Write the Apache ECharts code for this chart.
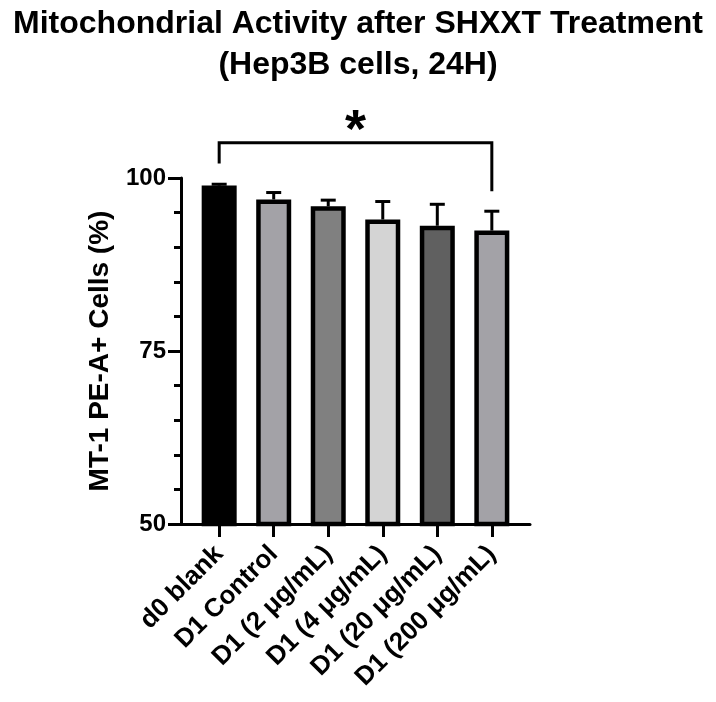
<!DOCTYPE html>
<html>
<head>
<meta charset="utf-8">
<script src="https://cdn.jsdelivr.net/npm/echarts@6/dist/echarts.min.js"></script>
<style>
  html, body { margin: 0; padding: 0; background: #fff; }
  #chart { width: 716px; height: 702px; }
</style>
</head>
<body>
<div id="chart"></div>
<script>
// data
const categories = ['d0 blank', 'D1 Control', 'D1 (2 μg/mL)', 'D1 (4 μg/mL)', 'D1 (20 μg/mL)', 'D1 (200 μg/mL)'];
const means = [98.9, 96.9, 95.9, 94.0, 93.1, 92.4];
const errors = [0.2, 1.0, 0.9, 2.6, 3.1, 2.8];
const barColors = ['#000000', '#a3a2a7', '#808080', '#d4d4d4', '#606060', '#a3a2a7'];
const yTicks = [50, 75, 100];
// significance bracket: from group, to group, top level, left leg end, right leg end
const bracket = [0, 5, 105.1, 102.1, 98.1];

const font = "'Liberation Sans', Arial, Helvetica, sans-serif";
const chart = echarts.init(document.getElementById('chart'));

const option = {
  backgroundColor: '#fff',
  animation: false,
  title: {
    text: 'Mitochondrial Activity after SHXXT Treatment\n(Hep3B cells, 24H)',
    left: 'center',
    top: -1,
    textStyle: {
      fontFamily: font,
      fontSize: 32,
      fontWeight: 'bold',
      color: '#000',
      lineHeight: 41
    }
  },
  grid: { left: 181, right: 186, top: 178, bottom: 178, containLabel: false },
  xAxis: {
    type: 'value',
    min: -0.7,
    max: 5.7,
    splitLine: { show: false },
    axisLine: { show: true, onZero: false, lineStyle: { color: '#000', width: 3 } },
    axisTick: {
      show: true,
      customValues: categories.map((c, i) => i),
      length: 13,
      lineStyle: { color: '#000', width: 3 }
    },
    axisLabel: {
      customValues: categories.map((c, i) => i),
      formatter: v => categories[Math.round(v)],
      rotate: 45,
      margin: 26,
      fontFamily: font,
      fontSize: 26,
      fontWeight: 'bold',
      color: '#000'
    }
  },
  yAxis: {
    type: 'value',
    min: yTicks[0],
    max: yTicks[yTicks.length - 1],
    interval: 25,
    name: 'MT-1 PE-A+ Cells (%)',
    nameLocation: 'middle',
    nameGap: 67,
    nameTextStyle: { fontFamily: font, fontSize: 28, fontWeight: 'bold', color: '#000' },
    splitLine: { show: false },
    axisLine: { show: true, onZero: false, lineStyle: { color: '#000', width: 3 } },
    axisTick: { show: true, length: 13, lineStyle: { color: '#000', width: 3 } },
    minorTick: { show: true, splitNumber: 5, length: 7, lineStyle: { color: '#000', width: 3 } },
    axisLabel: { fontFamily: font, fontSize: 24, fontWeight: 'bold', color: '#000', margin: 15 }
  },
  series: [
    {
      type: 'bar',
      barWidth: 35,
      data: means.map((v, i) => ({
        value: [i, v],
        itemStyle: { color: barColors[i], borderColor: '#000', borderWidth: 4.5 }
      }))
    },
    {
      // error bars (upper only)
      type: 'custom',
      clip: false,
      z: 3,
      data: means.map((v, i) => [i, v, v + errors[i]]),
      renderItem: (params, api) => {
        const base = api.coord([api.value(0), api.value(1)]);
        const top = api.coord([api.value(0), api.value(2)]);
        const half = 7.5;
        const style = { stroke: '#000', lineWidth: 3 };
        return {
          type: 'group',
          children: [
            { type: 'line', shape: { x1: base[0], y1: base[1], x2: top[0], y2: top[1] }, style },
            { type: 'line', shape: { x1: top[0] - half, y1: top[1], x2: top[0] + half, y2: top[1] }, style }
          ]
        };
      }
    },
    {
      // significance bracket
      type: 'custom',
      clip: false,
      data: [bracket],
      renderItem: (params, api) => {
        const tl = api.coord([api.value(0), api.value(2)]);
        const tr = api.coord([api.value(1), api.value(2)]);
        const bl = api.coord([api.value(0), api.value(3)]);
        const br = api.coord([api.value(1), api.value(4)]);
        return {
          type: 'group',
          children: [
            {
              type: 'polyline',
              shape: { points: [bl, tl, tr, br] },
              style: { stroke: '#000', lineWidth: 3, fill: null }
            },
            {
              type: 'text',
              style: {
                text: '*',
                x: (tl[0] + tr[0]) / 2,
                y: tl[1] - 11,
                align: 'center',
                verticalAlign: 'middle',
                font: 'bold 54px ' + font,
                fill: '#000'
              }
            }
          ]
        };
      }
    }
  ]
};

chart.setOption(option);
</script>
</body>
</html>
